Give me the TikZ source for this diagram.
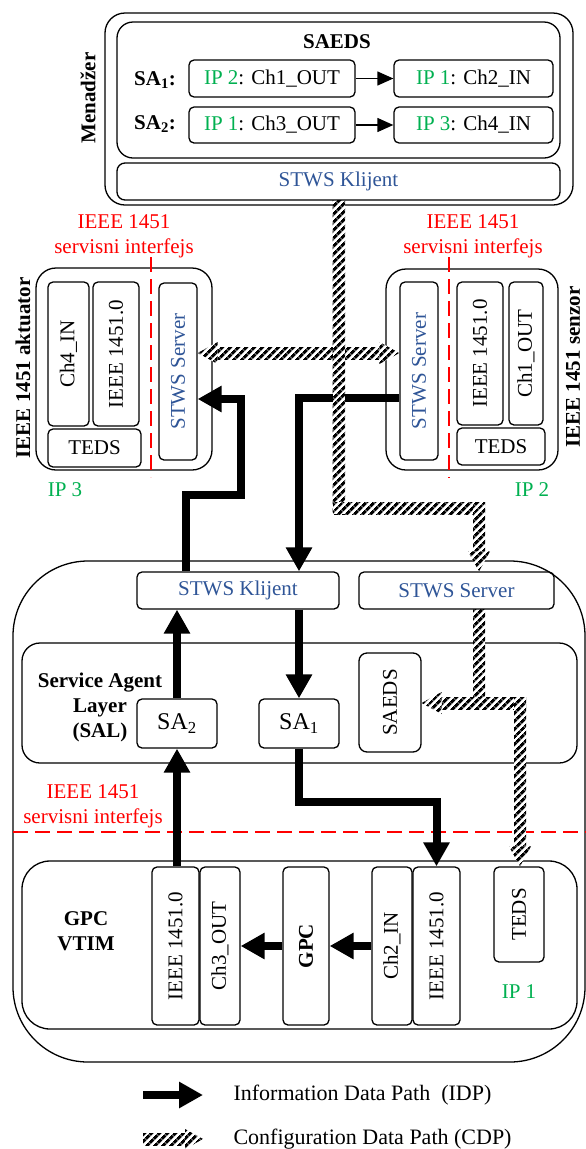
\documentclass[tikz,border=0pt]{standalone}
\usepackage{fontspec}
\setmainfont{Liberation Serif}
\usetikzlibrary{arrows.meta,calc,patterns.meta}
\definecolor{ipgreen}{RGB}{0,176,80}
\definecolor{stwsblue}{RGB}{47,85,151}

\begin{document}
\begin{tikzpicture}[x=1pt,y=-1pt,font=\fontsize{21}{25}\selectfont,
  box/.style={draw,line width=1.3pt,rounded corners=5pt,inner sep=0pt},
  outer/.style={draw,line width=1.3pt,rounded corners=20pt,inner sep=0pt},
  idp/.style={line width=8pt,-{Triangle[length=24pt,width=25pt]}},
  flow/.style={line width=1.3pt,-{Triangle[length=16pt,width=14pt]}},
  cdp/.style={preaction={fill=white},pattern={Lines[angle=45,distance=5.4pt,line width=3.1pt]}},
  iface/.style={red,line width=1.5pt,dash pattern=on 15pt off 7pt},
  stws/.style={text=stwsblue},
  lbl/.style={font=\fontsize{21}{25}\selectfont\bfseries,align=center}]
\useasboundingbox (0,0) rectangle (586,1149);

% Menadzer
\node[outer,minimum width=468pt,minimum height=192pt] (men) at (339,109) {};
\node[outer,rounded corners=16pt,minimum width=443pt,minimum height=136pt] (saeds) at (338.5,90) {};
\node[box,rounded corners=8pt,minimum width=443pt,minimum height=37pt,stws] (mk) at (338.5,181.5) {STWS Klijent};
\node[lbl] (saedst) at (337,42) {SAEDS};
\node[lbl] (sa1l) at (155,80) {SA\textsubscript{1}:};
\node[lbl] (sa2l) at (155,124) {SA\textsubscript{2}:};
\node[box,minimum width=166pt,minimum height=37pt] (p1) at (272,78.5) {\textcolor{ipgreen}{IP 2}: Ch1\_OUT};
\node[box,minimum width=159pt,minimum height=37pt] (p2) at (473.5,78.5) {\textcolor{ipgreen}{IP 1}: Ch2\_IN};
\node[box,minimum width=166pt,minimum height=36pt] (p3) at (272,125) {\textcolor{ipgreen}{IP 1}: Ch3\_OUT};
\node[box,minimum width=159pt,minimum height=36pt] (p4) at (473.5,125) {\textcolor{ipgreen}{IP 3}: Ch4\_IN};
\draw[flow] (p1.east) -- (p2.west);
\draw[flow] (p3.east) -- (p4.west);
\node[lbl,rotate=90] (menl) at (88,98) {Menadžer};

% aktuator
\node[outer,minimum width=176pt,minimum height=202pt] (akt) at (124,369) {};
\node[box,minimum width=41pt,minimum height=144pt] (a-ch4) at (68.5,354) {\rotatebox{90}{Ch4\_IN}};
\node[box,minimum width=46pt,minimum height=144pt] (a-ieee) at (116,354) {\rotatebox{90}{IEEE 1451.0}};
\node[box,minimum width=93pt,minimum height=38pt] (a-teds) at (94.5,448) {TEDS};
\node[box,minimum width=38pt,minimum height=177pt,stws] (a-stws) at (178,371.5) {\rotatebox{90}{STWS Server}};
\node[red,align=center] (a-if) at (124,236) {IEEE 1451\\servisni interfejs};
\draw[iface] (151,257) -- (151,477);
\node[lbl,rotate=90] (aktl) at (23,368) {IEEE 1451 aktuator};
\node[text=ipgreen] (ip3) at (65,490) {IP 3};

% senzor
\node[outer,minimum width=172pt,minimum height=201pt] (sen) at (472,369.5) {};
\node[box,minimum width=38pt,minimum height=178pt,stws] (s-stws) at (419,371) {\rotatebox{90}{STWS Server}};
\node[box,minimum width=46pt,minimum height=143pt] (s-ieee) at (480,353.5) {\rotatebox{90}{IEEE 1451.0}};
\node[box,minimum width=34pt,minimum height=143pt] (s-ch1) at (526,353.5) {\rotatebox{90}{Ch1\_OUT}};
\node[box,minimum width=88pt,minimum height=37pt] (s-teds) at (501,446.5) {TEDS};
\node[red,align=center] (s-if) at (473,236) {IEEE 1451\\servisni interfejs};
\draw[iface] (449,257) -- (449,478);
\node[lbl,rotate=90] (senl) at (573,367) {IEEE 1451 senzor};
\node[text=ipgreen] (ip2) at (532,490) {IP 2};

% GPC VTIM cvor
\draw[line width=1.3pt,rounded corners=75pt] (13,561) rectangle (585,1062);
\node[box,minimum width=202pt,minimum height=37pt,stws] (bk) at (238,590.5) {STWS Klijent};
\node[box,minimum width=195pt,minimum height=37pt,stws] (bs) at (456.5,590.5) {STWS Server};
\node[outer,rounded corners=18pt,minimum width=555pt,minimum height=120pt] (sal) at (299.5,703) {};
\node[lbl] (sall) at (100,707) {Service Agent\\Layer\\(SAL)};
\node[box,minimum width=80pt,minimum height=49pt,font=\fontsize{24}{28}\selectfont] (sa2) at (177,723.5) {SA\textsubscript{2}};
\node[box,minimum width=80pt,minimum height=49pt,font=\fontsize{24}{28}\selectfont] (sa1) at (299,723.5) {SA\textsubscript{1}};
\node[box,rounded corners=8pt,minimum width=62pt,minimum height=99pt] (bsaeds) at (390,702.5) {\rotatebox{90}{SAEDS}};
\node[red,align=center] (v-if) at (93,806) {IEEE 1451\\servisni interfejs};
\draw[iface] (13,832) -- (586,832);
\node[outer,rounded corners=28pt,minimum width=555pt,minimum height=168pt] (vtim) at (299.5,945) {};
\node[lbl] (vtiml) at (86,931) {GPC\\VTIM};
\node[box,minimum width=47pt,minimum height=158pt] (v-ieee1) at (175.5,946) {\rotatebox{90}{IEEE 1451.0}};
\node[box,minimum width=40pt,minimum height=158pt] (v-ch3) at (220,946) {\rotatebox{90}{Ch3\_OUT}};
\node[box,minimum width=46pt,minimum height=158pt,font=\fontsize{21}{25}\selectfont\bfseries] (v-gpc) at (306,946) {\rotatebox{90}{GPC}};
\node[box,minimum width=40pt,minimum height=158pt] (v-ch2) at (392,946) {\rotatebox{90}{Ch2\_IN}};
\node[box,minimum width=47pt,minimum height=158pt] (v-ieee2) at (436.5,946) {\rotatebox{90}{IEEE 1451.0}};
\node[box,minimum width=50pt,minimum height=95pt] (v-teds) at (519,914.5) {\rotatebox{90}{TEDS}};
\node[text=ipgreen] (ip1) at (519,992) {IP 1};

% Information Data Path
\draw[idp] ($(bk.north west)+(50,0)$) |- (241,495) |- ($(a-stws.east)+(0,27.5)$);
\draw[idp] ($(s-stws.west)+(0,27)$) -| (sa1.north |- bk.north);
\draw[idp] (sa1.north |- bk.south) -- (sa1.north);
\draw[idp] (sa2.north) -- (sa2.north |- bk.south);
\draw[idp] (sa2.south |- v-ieee1.north) -- (sa2.south);
\draw[idp] (sa1.south) |- ($(v-ieee2.north)+(0,-64)$) -- (v-ieee2.north);
\draw[idp] (v-ch2.west) -- (v-gpc.east);
\draw[idp] (v-gpc.west) -- (v-ch3.east);

% Configuration Data Path
\coordinate (c1) at (339,508);
\coordinate (c2) at (479,508);
\coordinate (c3) at (479,703);
\coordinate (c4) at (520,703);
\coordinate (h1) at ($(a-stws.east)+(0,-18.5)$);
\coordinate (h2) at ($(s-stws.west)+(0,-18)$);
\coordinate (t1) at (c2 |- bs.north);
\coordinate (t2) at (c3 |- bs.south);
\coordinate (t3) at (bsaeds.east |- c3);
\coordinate (t4) at (c4 |- v-teds.north);
\fill[cdp] ($(h1)+(20,-6)$) rectangle ($(h2)+(-20,6)$);
\fill[cdp] (h1) -- ++(20,-11) -- ++(0,22) -- cycle;
\fill[cdp] (h2) -- ++(-20,-11) -- ++(0,22) -- cycle;
\fill[cdp] ($(mk.south)+(-6,0)$) rectangle ($(c1)+(6,6)$);
\fill[cdp] ($(c1)+(-6,-6)$) rectangle ($(c2)+(6,6)$);
\fill[cdp] ($(c2)+(-6,-6)$) rectangle ($(t1)+(6,-20)$);
\fill[cdp] (t1) -- ++(-11,-20) -- ++(22,0) -- cycle;
\fill[cdp] ($(t2)+(-6,0)$) rectangle ($(c3)+(6,6)$);
\fill[cdp] ($(t3)+(20,-6)$) rectangle ($(c4)+(6,6)$);
\fill[cdp] (t3) -- ++(20,-11) -- ++(0,22) -- cycle;
\fill[cdp] ($(c4)+(-6,-6)$) rectangle ($(t4)+(6,-20)$);
\fill[cdp] (t4) -- ++(-11,-20) -- ++(22,0) -- cycle;

% legenda
\coordinate (li1) at (143,1095);
\coordinate (li2) at (203,1095);
\coordinate (lc1) at (143,1139);
\coordinate (lc2) at (203,1139);
\draw[idp] (li1) -- (li2);
\fill[cdp] ($(lc1)+(0,-6)$) rectangle ($(lc2)+(-18,6)$);
\fill[cdp] (lc2) -- ++(-18,-10) -- ++(0,20) -- cycle;
\node[anchor=west,font=\fontsize{22}{26}\selectfont] (lidp) at (230,1095) {Information Data Path\ \ (IDP)};
\node[anchor=west,font=\fontsize{22}{26}\selectfont] (lcdp) at (230,1139) {Configuration Data Path (CDP)};
\end{tikzpicture}
\end{document}
